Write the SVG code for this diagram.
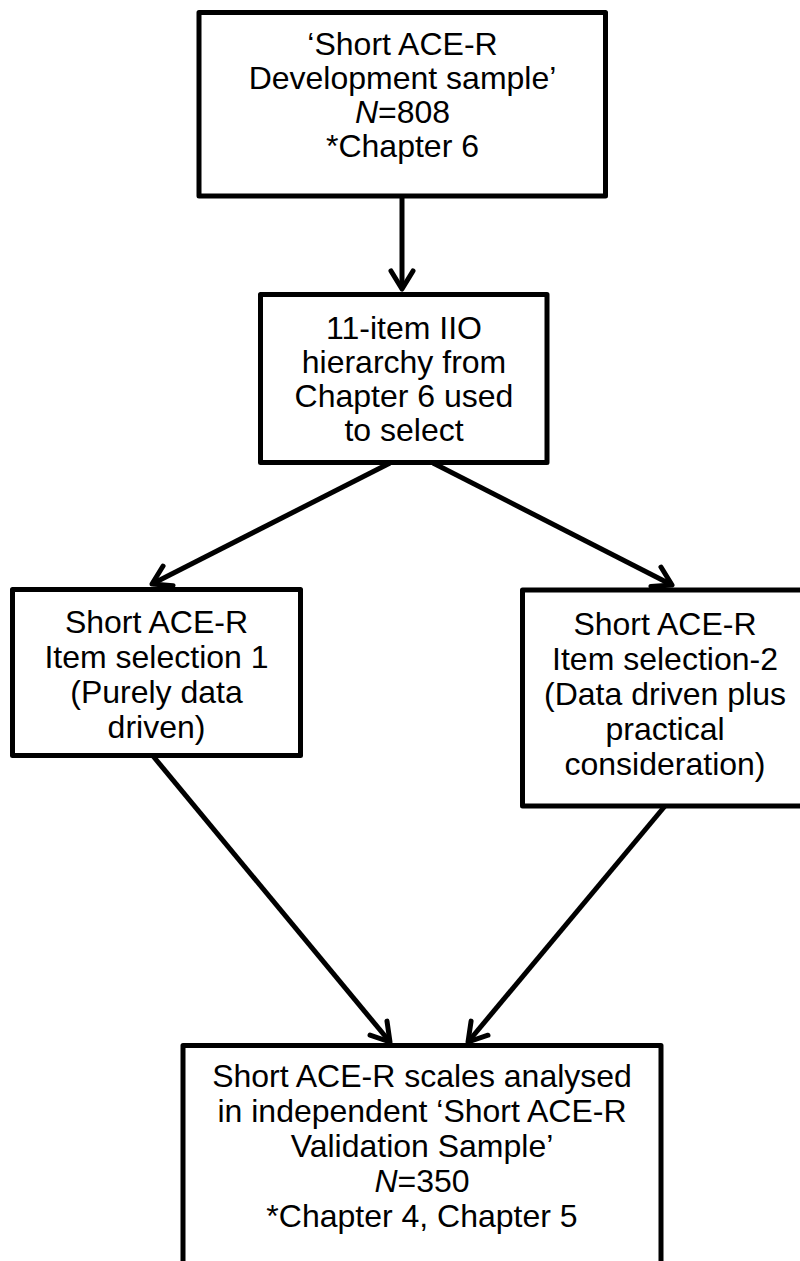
<svg xmlns="http://www.w3.org/2000/svg" width="800" height="1261" viewBox="0 0 800 1261">
<style>
.box{fill:#fff;stroke:#000;stroke-width:5;stroke-linejoin:round}
.t{font-family:"Liberation Sans",Arial,sans-serif;font-size:32px;fill:#000;text-anchor:middle}
.con{fill:none;stroke:#000;stroke-width:5;stroke-linecap:butt}
</style>
<defs>
<marker id="arr" viewBox="-25 -15 30 30" markerWidth="30" markerHeight="30" refX="0" refY="0" orient="auto" markerUnits="userSpaceOnUse" overflow="visible">
<path d="M-18,-11 L0,0 L-18,11" fill="none" stroke="#000" stroke-width="5" stroke-linecap="round" stroke-linejoin="round"/>
</marker>
</defs>
<rect width="800" height="1261" fill="#fff"/>
<g id="connectors">
<line class="con" x1="402" y1="198" x2="402" y2="289" marker-end="url(#arr)"/>
<line class="con" x1="390" y1="463" x2="152" y2="584" marker-end="url(#arr)"/>
<line class="con" x1="433" y1="463" x2="672" y2="585" marker-end="url(#arr)"/>
<line class="con" x1="153" y1="756" x2="390" y2="1042" marker-end="url(#arr)"/>
<line class="con" x1="665" y1="806" x2="468" y2="1042" marker-end="url(#arr)"/>
</g>
<g id="node-development">
<rect class="box" x="199" y="12.5" width="406.5" height="183.5"/>
<text class="t" x="402.5" y="55">‘Short ACE-R</text>
<text class="t" x="402.5" y="89">Development sample’</text>
<text class="t" x="402.5" y="123"><tspan font-style="italic">N</tspan>=808</text>
<text class="t" x="402.5" y="157">*Chapter 6</text>
</g>
<g id="node-hierarchy">
<rect class="box" x="260.5" y="294.5" width="286.5" height="168"/>
<text class="t" x="404" y="339">11-item IIO</text>
<text class="t" x="404" y="373">hierarchy from</text>
<text class="t" x="404" y="407">Chapter 6 used</text>
<text class="t" x="404" y="441">to select</text>
</g>
<g id="node-selection1">
<rect class="box" x="12.5" y="589.5" width="288" height="166"/>
<text class="t" x="156.5" y="633">Short ACE-R</text>
<text class="t" x="156.5" y="668">Item selection 1</text>
<text class="t" x="156.5" y="703">(Purely data</text>
<text class="t" x="156.5" y="738">driven)</text>
</g>
<g id="node-selection2">
<rect class="box" x="522.5" y="590" width="285" height="216"/>
<text class="t" x="665" y="635">Short ACE-R</text>
<text class="t" x="665" y="670">Item selection-2</text>
<text class="t" x="665" y="705">(Data driven plus</text>
<text class="t" x="665" y="740">practical</text>
<text class="t" x="665" y="775">consideration)</text>
</g>
<g id="node-validation">
<rect class="box" x="183" y="1045.5" width="478" height="240"/>
<text class="t" x="422" y="1087">Short ACE-R scales analysed</text>
<text class="t" x="422" y="1122">in independent ‘Short ACE-R</text>
<text class="t" x="422" y="1157">Validation Sample’</text>
<text class="t" x="422" y="1192"><tspan font-style="italic">N</tspan>=350</text>
<text class="t" x="422" y="1227">*Chapter 4, Chapter 5</text>
</g>
</svg>
